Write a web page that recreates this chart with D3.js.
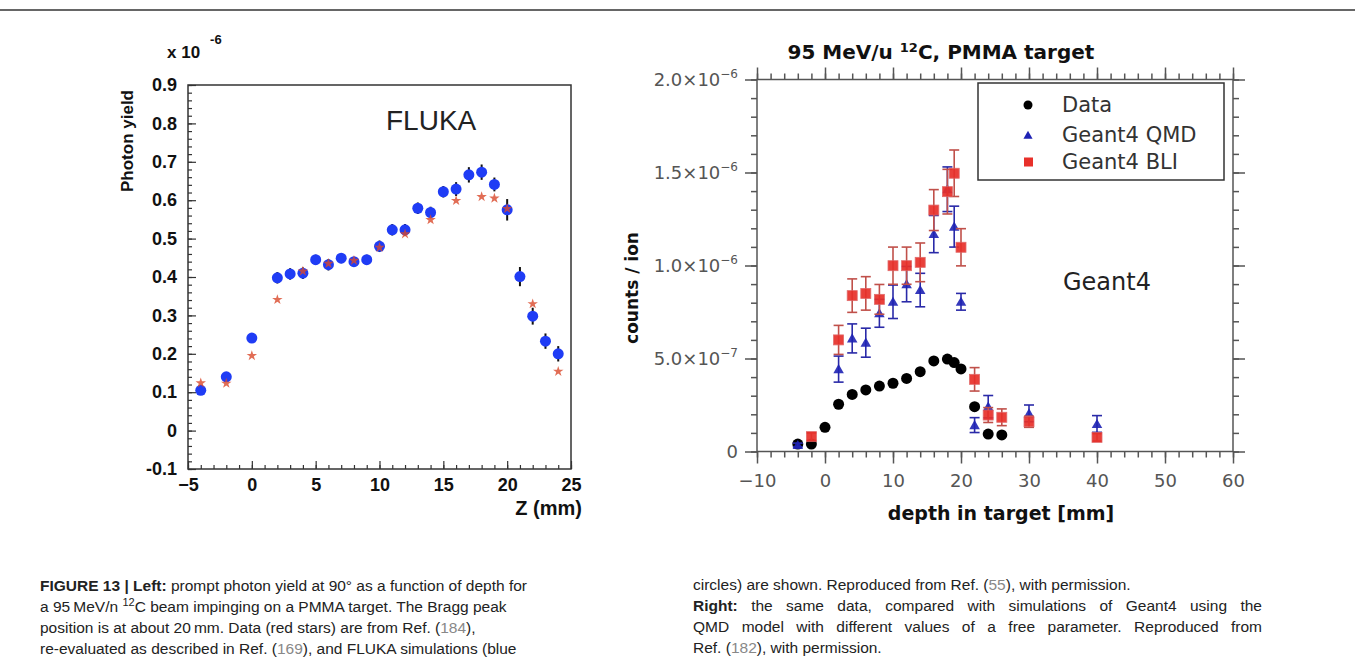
<!DOCTYPE html>
<html><head><meta charset="utf-8">
<script src="https://cdn.jsdelivr.net/npm/d3@7"></script>
<style>body{margin:0;background:#fff;} svg{display:block}</style>
</head><body>
<svg id="c" width="1355" height="670"></svg>
<script>
// ---------- LEFT PANEL DATA (FLUKA) ----------
const leftFlukaZ   = [-4,-2,0,2,3,4,5,6,7,8,9,10,11,12,13,14,15,16,17,18,19,20,21,22,23,24];
const leftFlukaY   = [0.105,0.14,0.241,0.398,0.408,0.41,0.445,0.432,0.449,0.44,0.445,0.48,0.523,0.523,0.579,0.568,0.622,0.629,0.666,0.673,0.641,0.575,0.401,0.298,0.233,0.2];
const leftFlukaErr = [0.012,0.012,0.012,0.015,0.015,0.015,0.013,0.015,0.013,0.012,0.013,0.015,0.015,0.015,0.015,0.015,0.015,0.018,0.02,0.02,0.018,0.028,0.025,0.022,0.02,0.02];
const leftDataZ    = [-4,-2,0,2,4,6,8,10,12,14,16,18,19,20,22,24];
const leftDataY    = [0.124,0.123,0.195,0.341,0.415,0.435,0.443,0.477,0.512,0.549,0.599,0.609,0.605,0.578,0.33,0.154];
const leftXTicks   = [-5,0,5,10,15,20,25];
const leftYTicks   = [-0.1,0,0.1,0.2,0.3,0.4,0.5,0.6,0.7,0.8,0.9];
const leftYLabels  = ["-0.1","0","0.1","0.2","0.3","0.4","0.5","0.6","0.7","0.8","0.9"];

// ---------- RIGHT PANEL DATA (Geant4), values in units of 1e-6 ----------
const rightUnit = 1e-6;
const dataX  = [-4,-2,0,2,4,6,8,10,12,14,16,18,19,20,22,24,26];
const dataY  = [0.04,0.04,0.13,0.254,0.307,0.331,0.352,0.367,0.393,0.429,0.487,0.497,0.478,0.444,0.241,0.094,0.089];
const qmdX   = [-4,2,4,6,8,10,12,14,16,18,19,20,22,24,30,40];
const qmdY   = [0.035,0.443,0.608,0.585,0.743,0.805,0.9,0.868,1.169,1.41,1.209,0.805,0.142,0.241,0.205,0.148];
const qmdErr = [0.01,0.07,0.078,0.078,0.075,0.09,0.095,0.09,0.1,0.12,0.11,0.045,0.04,0.06,0.045,0.045];
const bliX   = [-2,2,4,6,8,10,12,14,16,18,19,20,22,24,26,30,40];
const bliY   = [0.08,0.6,0.838,0.85,0.818,0.999,0.999,1.017,1.298,1.397,1.496,1.098,0.388,0.196,0.184,0.16,0.076];
const bliErr = [0.02,0.078,0.09,0.09,0.08,0.1,0.1,0.104,0.11,0.12,0.125,0.1,0.063,0.04,0.045,0.03,0.02];
const rightXTicks = [-10,0,10,20,30,40,50,60];
const rightYTicks = [0,0.5,1.0,1.5,2.0];
const rightYMant  = ["0","5.0","1.0","1.5","2.0"];
const rightYExp   = ["","−7","−6","−6","−6"];
const legendNames = ["Data","Geant4 QMD","Geant4 BLI"];

// ---------- CAPTION ----------
const captionLeft = [
  [["b","FIGURE 13 | Left:"],["n"," prompt photon yield at 90° as a function of depth for"]],
  [["n","a 95\u2009MeV/n "],["sup","12"],["n","C beam impinging on a PMMA target. The Bragg peak"]],
  [["n","position is at about 20\u2009mm. Data (red stars) are from Ref. ("],["g","184"],["n","),"]],
  [["n","re-evaluated as described in Ref. ("],["g","169"],["n","), and FLUKA simulations (blue"]]
];
const captionRight = [
  [["n","circles) are shown. Reproduced from Ref. ("],["g","55"],["n","), with permission."]],
  [["b","Right:"],["n"," the same data, compared with simulations of Geant4 using the"]],
  [["n","QMD model with different values of a free parameter. Reproduced from"]],
  [["n","Ref. ("],["g","182"],["n","), with permission."]]
];
const captionRightJustified = [false,true,true,false];

const svg = d3.select("#c");

// top rule
svg.append("line").attr("x1",0).attr("x2",1355).attr("y1",10).attr("y2",10)
   .attr("stroke","#333").attr("stroke-width",1.5);

// ================= LEFT PANEL =================
{
  const L = {l:188, r:571, t:85, b:469};
  const x = d3.scaleLinear().domain([-5,25]).range([L.l,L.r]);
  const y = d3.scaleLinear().domain([-0.1,0.9]).range([L.b,L.t]);
  const g = svg.append("g");
  const font = "'Liberation Sans', Arial, sans-serif";

  g.append("rect").attr("x",L.l).attr("y",L.t).attr("width",L.r-L.l).attr("height",L.b-L.t)
   .attr("fill","none").attr("stroke","#333").attr("stroke-width",1.5);

  const yMinor = g.append("g").attr("transform",`translate(${L.l},0)`)
    .call(d3.axisLeft(y).tickValues(d3.range(-0.1,0.9001,0.02)).tickSize(-4).tickFormat(""));
  const yMajor = g.append("g").attr("transform",`translate(${L.l},0)`)
    .call(d3.axisLeft(y).tickValues(leftYTicks).tickSize(-8).tickPadding(11)
      .tickFormat((d,i)=>leftYLabels[i]));
  const xMinor = g.append("g").attr("transform",`translate(0,${L.b})`)
    .call(d3.axisBottom(x).tickValues(d3.range(-5,25.01,1)).tickSize(-4).tickFormat(""));
  const xMajor = g.append("g").attr("transform",`translate(0,${L.b})`)
    .call(d3.axisBottom(x).tickValues(leftXTicks).tickSize(-8).tickPadding(9));
  [yMinor,yMajor,xMinor,xMajor].forEach(a=>{
    a.select(".domain").remove();
    a.selectAll(".tick line").attr("stroke","#333").attr("stroke-width",1.2);
    a.selectAll("text").attr("font-family",font).attr("font-weight","bold")
      .attr("font-size",18).attr("fill","#111");
  });

  g.append("text").attr("transform","translate(133,141) rotate(-90)").attr("text-anchor","middle")
   .attr("font-family",font).attr("font-weight","bold").attr("font-size",17).attr("fill","#111")
   .text("Photon yield");
  g.append("text").attr("x",582).attr("y",515).attr("text-anchor","end")
   .attr("font-family",font).attr("font-weight","bold").attr("font-size",20).attr("fill","#111")
   .text("Z (mm)");
  const ex = g.append("text").attr("x",167).attr("y",58)
   .attr("font-family",font).attr("font-weight","bold").attr("font-size",17).attr("fill","#111");
  ex.append("tspan").text("x 10");
  ex.append("tspan").attr("dx",10).attr("dy",-14).attr("font-size",13).text("-6");

  g.append("text").attr("x",386).attr("y",130).attr("font-family",font)
   .attr("font-size",28).attr("fill","#222").text("FLUKA");

  const fl = leftFlukaZ.map((z,i)=>({z, v:leftFlukaY[i], e:leftFlukaErr[i]}));
  g.append("g").selectAll("line").data(fl).join("line")
    .attr("x1",d=>x(d.z)).attr("x2",d=>x(d.z))
    .attr("y1",d=>y(d.v-d.e)).attr("y2",d=>y(d.v+d.e))
    .attr("stroke","#111").attr("stroke-width",2);
  g.append("g").selectAll("circle").data(fl).join("circle")
    .attr("cx",d=>x(d.z)).attr("cy",d=>y(d.v)).attr("r",5.5)
    .attr("fill","#1f3cf5");
  const star = d3.symbol().type(d3.symbolStar).size(34);
  g.append("g").selectAll("path").data(leftDataZ.map((z,i)=>({z,v:leftDataY[i]}))).join("path")
    .attr("d",star).attr("transform",d=>`translate(${x(d.z)},${y(d.v)})`)
    .attr("fill","#d9482a").attr("opacity",0.8);
}

// ================= RIGHT PANEL =================
{
  const R = {l:757, r:1233, t:79.5, b:451.5};
  const x = d3.scaleLinear().domain([-10,60]).range([R.l,R.r]);
  const y = d3.scaleLinear().domain([0,2.0]).range([R.b,R.t]);
  const g = svg.append("g");
  const font = "'DejaVu Sans', sans-serif";
  const ax = "#555";

  g.append("rect").attr("x",R.l).attr("y",R.t).attr("width",R.r-R.l).attr("height",R.b-R.t)
   .attr("fill","none").attr("stroke",ax).attr("stroke-width",1.5);

  const minorX = d3.range(-10,60.01,2), minorY = d3.range(0,2.001,0.1);
  const axes = [
    g.append("g").attr("transform",`translate(0,${R.b})`).call(d3.axisBottom(x).tickValues(minorX).tickSize(6).tickFormat("")),
    g.append("g").attr("transform",`translate(0,${R.b})`).call(d3.axisBottom(x).tickValues(rightXTicks).tickSize(12).tickPadding(11)
       .tickFormat(d=>d<0?"−"+Math.abs(d):d)),
    g.append("g").attr("transform",`translate(0,${R.t})`).call(d3.axisTop(x).tickValues(minorX).tickSize(6).tickFormat("")),
    g.append("g").attr("transform",`translate(0,${R.t})`).call(d3.axisTop(x).tickValues(rightXTicks).tickSize(12).tickFormat("")),
    g.append("g").attr("transform",`translate(${R.l},0)`).call(d3.axisLeft(y).tickValues(minorY).tickSize(6).tickFormat("")),
    g.append("g").attr("transform",`translate(${R.l},0)`).call(d3.axisLeft(y).tickValues(rightYTicks).tickSize(12).tickFormat("")),
    g.append("g").attr("transform",`translate(${R.r},0)`).call(d3.axisRight(y).tickValues(minorY).tickSize(6).tickFormat("")),
    g.append("g").attr("transform",`translate(${R.r},0)`).call(d3.axisRight(y).tickValues(rightYTicks).tickSize(12).tickFormat(""))
  ];
  axes.forEach(a=>{
    a.select(".domain").remove();
    a.selectAll(".tick line").attr("stroke",ax).attr("stroke-width",1.5);
    a.selectAll("text").attr("font-family",font).attr("font-size",18).attr("fill","#555");
  });
  rightYTicks.forEach((v,i)=>{
    const t = g.append("text").attr("x",R.l-19).attr("y",y(v)+6).attr("text-anchor","end")
      .attr("font-family",font).attr("font-size",18).attr("fill","#555");
    if (rightYExp[i]) {
      t.append("tspan").text(rightYMant[i]+"×10");
      t.append("tspan").attr("dy",-8).attr("font-size",12).text(rightYExp[i]);
    } else t.text(rightYMant[i]);
  });

  const tt = g.append("text").attr("x",941).attr("y",59).attr("text-anchor","middle")
    .attr("font-family",font).attr("font-weight","bold").attr("font-size",20).attr("fill","#111");
  tt.append("tspan").text("95 MeV/u ");
  tt.append("tspan").attr("dy",-7).attr("font-size",13).text("12");
  tt.append("tspan").attr("dy",7).text("C, PMMA target");
  g.append("text").attr("x",1001).attr("y",520).attr("text-anchor","middle")
    .attr("font-family",font).attr("font-weight","bold").attr("font-size",19).attr("fill","#111")
    .text("depth in target [mm]");
  g.append("text").attr("transform","translate(638,288) rotate(-90)").attr("text-anchor","middle")
    .attr("font-family",font).attr("font-weight","bold").attr("font-size",17).attr("fill","#111")
    .text("counts / ion");
  g.append("text").attr("x",1063).attr("y",290).attr("font-family",font)
    .attr("font-size",24).attr("fill","#222").text("Geant4");

  const errBars = (arrX, arrY, arrE, color) => {
    const d = arrX.map((xx,i)=>({x:xx, v:arrY[i], e:arrE[i]}));
    const eg = g.append("g").attr("stroke",color).attr("stroke-width",1.6);
    eg.selectAll(".v").data(d).join("line").attr("x1",p=>x(p.x)).attr("x2",p=>x(p.x))
      .attr("y1",p=>y(p.v-p.e)).attr("y2",p=>y(p.v+p.e));
    eg.selectAll(".t").data(d).join("line").attr("x1",p=>x(p.x)-5).attr("x2",p=>x(p.x)+5)
      .attr("y1",p=>y(p.v+p.e)).attr("y2",p=>y(p.v+p.e));
    eg.selectAll(".b").data(d).join("line").attr("x1",p=>x(p.x)-5).attr("x2",p=>x(p.x)+5)
      .attr("y1",p=>y(p.v-p.e)).attr("y2",p=>y(p.v-p.e));
    return d;
  };

  g.append("g").selectAll("circle").data(dataX.map((xx,i)=>({x:xx,v:dataY[i]}))).join("circle")
    .attr("cx",p=>x(p.x)).attr("cy",p=>y(p.v)).attr("r",5.5).attr("fill","#000");
  const qd = errBars(qmdX,qmdY,qmdErr,"#2a2aa8");
  const tri = d3.symbol().type(d3.symbolTriangle).size(48);
  g.append("g").selectAll("path").data(qd).join("path").attr("d",tri)
    .attr("transform",p=>`translate(${x(p.x)},${y(p.v)+1})`).attr("fill","#1e22b4").attr("opacity",0.9);
  const bd = errBars(bliX,bliY,bliErr,"#c0504a");
  g.append("g").selectAll("rect").data(bd).join("rect")
    .attr("x",p=>x(p.x)-5).attr("y",p=>y(p.v)-5).attr("width",10).attr("height",10)
    .attr("fill","#e8302a").attr("stroke","#e06060").attr("stroke-width",0.8).attr("opacity",0.92);

  const lg = g.append("g");
  lg.append("rect").attr("x",978).attr("y",83).attr("width",246).attr("height",97)
    .attr("fill","#fff").attr("stroke","#333").attr("stroke-width",1.5);
  const rows = [105,135,162];
  lg.append("circle").attr("cx",1028).attr("cy",rows[0]).attr("r",4.5).attr("fill","#000");
  lg.append("path").attr("d",d3.symbol().type(d3.symbolTriangle).size(36))
    .attr("transform",`translate(1028,${rows[1]+1})`).attr("fill","#1e22b4");
  lg.append("rect").attr("x",1024).attr("y",rows[2]-4.5).attr("width",9).attr("height",9).attr("fill","#e8302a");
  legendNames.forEach((n,i)=>{
    lg.append("text").attr("x",1062).attr("y",rows[i]+7).attr("font-family",font)
      .attr("font-size",21).attr("fill","#333").text(n);
  });
}

// ================= CAPTION =================
function caption(lines, x0, y0, justify, rightEdge) {
  lines.forEach((segs,i)=>{
    const t = svg.append("text").attr("x",x0).attr("y",y0+i*21)
      .attr("font-family","'Liberation Sans', Arial, sans-serif").attr("font-size",15.5).attr("fill","#222");
    let sup = false;
    segs.forEach(([k,s])=>{
      const sp = t.append("tspan").text(s);
      if (k==="b") sp.attr("font-weight","bold");
      if (k==="g") sp.attr("fill","#888");
      if (k==="sup") { sp.attr("font-size",11).attr("dy",-6); sup = true; }
      else if (sup) { sp.attr("dy",6); sup = false; }
    });
    if (justify && justify[i]) {
      const len = t.node().getComputedTextLength();
      const spaces = segs.map(s=>s[1]).join("").split(" ").length - 1;
      t.attr("word-spacing", ((rightEdge - x0 - len)/spaces).toFixed(2));
    }
  });
}
caption(captionLeft, 40, 591);
caption(captionRight, 693, 590, captionRightJustified, 1262);
</script>
</body></html>
